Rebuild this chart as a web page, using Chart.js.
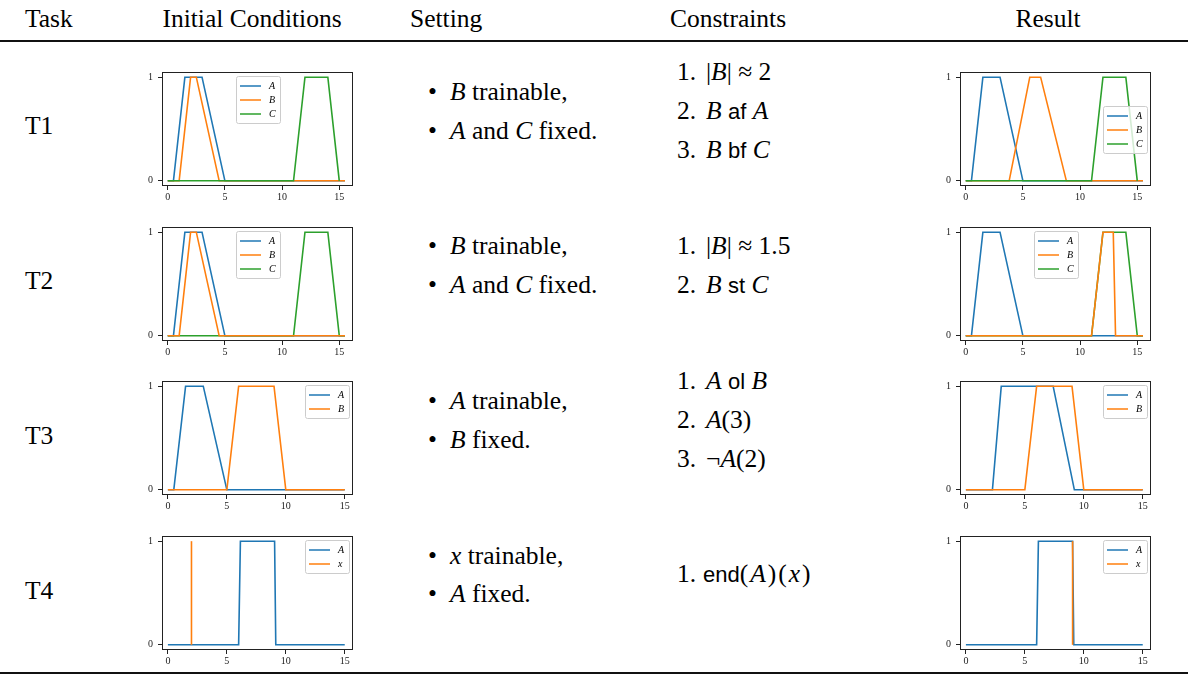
<!DOCTYPE html>
<html>
<head>
<meta charset="utf-8">
<script src="https://cdn.jsdelivr.net/npm/chart.js@4.4.0/dist/chart.umd.min.js"></script>
<style>
  body { margin: 0; width: 1188px; height: 677px; background: #fff; position: relative; overflow: hidden;
         font-family: "Liberation Serif", "Times New Roman", serif; color: #000; }
  .t { position: absolute; font-size: 25.5px; line-height: 1; white-space: nowrap; transform: translateY(-50%); }
  .c { transform: translate(-50%, -50%); }
  .sf { font-family: "Liberation Sans", Arial, sans-serif; font-size: 22px; }
  .wide { letter-spacing: 2px; }
  .rule { position: absolute; left: 0; width: 1188px; height: 2px; background: #111; }
  canvas { position: absolute; }
  i { font-style: italic; }
</style>
</head>
<body>

<div class="t" style="left:25px;top:19px">Task</div>
<div class="t c" style="left:252px;top:19px">Initial Conditions</div>
<div class="t" style="left:410px;top:19px">Setting</div>
<div class="t c" style="left:728px;top:19px">Constraints</div>
<div class="t c" style="left:1048px;top:19px">Result</div>
<div class="rule" style="top:40px"></div>

<!-- T1 -->
<div class="t" style="left:25px;top:126px">T1</div>
<div class="t" style="left:428px;top:92px">•</div>
<div class="t" style="left:450px;top:92px"><i>B</i> trainable,</div>
<div class="t" style="left:428px;top:131px">•</div>
<div class="t" style="left:450px;top:131px"><i>A</i> and <i>C</i> fixed.</div>
<div class="t" style="left:677px;top:72px">1.</div>
<div class="t" style="left:706px;top:72px">|<i>B</i>| ≈ 2</div>
<div class="t" style="left:677px;top:111px">2.</div>
<div class="t" style="left:706px;top:111px"><i>B</i> <span class="sf">af</span> <i>A</i></div>
<div class="t" style="left:677px;top:150px">3.</div>
<div class="t" style="left:706px;top:150px"><i>B</i> <span class="sf">bf</span> <i>C</i></div>

<!-- T2 -->
<div class="t" style="left:25px;top:281px">T2</div>
<div class="t" style="left:428px;top:246px">•</div>
<div class="t" style="left:450px;top:246px"><i>B</i> trainable,</div>
<div class="t" style="left:428px;top:285px">•</div>
<div class="t" style="left:450px;top:285px"><i>A</i> and <i>C</i> fixed.</div>
<div class="t" style="left:677px;top:246px">1.</div>
<div class="t" style="left:706px;top:246px">|<i>B</i>| ≈ 1.5</div>
<div class="t" style="left:677px;top:285px">2.</div>
<div class="t" style="left:706px;top:285px"><i>B</i> <span class="sf">st</span> <i>C</i></div>

<!-- T3 -->
<div class="t" style="left:25px;top:436px">T3</div>
<div class="t" style="left:428px;top:401px">•</div>
<div class="t" style="left:450px;top:401px"><i>A</i> trainable,</div>
<div class="t" style="left:428px;top:440px">•</div>
<div class="t" style="left:450px;top:440px"><i>B</i> fixed.</div>
<div class="t" style="left:677px;top:381px">1.</div>
<div class="t" style="left:706px;top:381px"><i>A</i> <span class="sf">ol</span> <i>B</i></div>
<div class="t" style="left:677px;top:420px">2.</div>
<div class="t" style="left:706px;top:420px"><i>A</i>(3)</div>
<div class="t" style="left:677px;top:459px">3.</div>
<div class="t" style="left:706px;top:459px">¬<i>A</i>(2)</div>

<!-- T4 -->
<div class="t" style="left:25px;top:591px">T4</div>
<div class="t" style="left:428px;top:556px">•</div>
<div class="t" style="left:450px;top:556px"><i>x</i> trainable,</div>
<div class="t" style="left:428px;top:594px">•</div>
<div class="t" style="left:450px;top:594px"><i>A</i> fixed.</div>
<div class="t" style="left:677px;top:574px">1.</div>
<div class="t" style="left:703px;top:574px"><span class="sf">end</span><span class="wide">(<i>A</i>)(<i>x</i>)</span></div>

<div class="rule" style="top:672px"></div>

<canvas id="t1Init" width="219" height="143" style="left:140px;top:61px"></canvas>
<canvas id="t1Res" width="219" height="143" style="left:938px;top:61px"></canvas>
<canvas id="t2Init" width="219" height="143" style="left:140px;top:216px"></canvas>
<canvas id="t2Res" width="219" height="143" style="left:938px;top:216px"></canvas>
<canvas id="t3Init" width="219" height="143" style="left:140px;top:370px"></canvas>
<canvas id="t3Res" width="219" height="143" style="left:938px;top:370px"></canvas>
<canvas id="t4Init" width="219" height="143" style="left:140px;top:525px"></canvas>
<canvas id="t4Res" width="219" height="143" style="left:938px;top:525px"></canvas>

<script>
// Ticks
const xTicks = [0, 5, 10, 15];
const yTicks = [0, 1];

// T1 - initial conditions
const t1InitAx = [0, 0.5, 1.5, 3, 5, 15.5];
const t1InitAy = [0, 0, 1, 1, 0, 0];
const t1InitBx = [0, 1, 2, 2.5, 4.5, 15.5];
const t1InitBy = [0, 0, 1, 1, 0, 0];
const t1InitCx = [0, 11, 12, 14, 15];
const t1InitCy = [0, 0, 1, 1, 0];

// T1 - result
const t1ResAx = [0, 0.5, 1.5, 3, 5, 15.5];
const t1ResAy = [0, 0, 1, 1, 0, 0];
const t1ResBx = [0, 3.8, 5.6, 6.55, 8.8, 15.5];
const t1ResBy = [0, 0, 1, 1, 0, 0];
const t1ResCx = [0, 11, 12, 14, 15];
const t1ResCy = [0, 0, 1, 1, 0];

// T2 - initial conditions
const t2InitAx = [0, 0.5, 1.5, 3, 5, 15.5];
const t2InitAy = [0, 0, 1, 1, 0, 0];
const t2InitBx = [0, 1, 2, 2.5, 4.5, 15.5];
const t2InitBy = [0, 0, 1, 1, 0, 0];
const t2InitCx = [0, 11, 12, 14, 15, 15.5];
const t2InitCy = [0, 0, 1, 1, 0, 0];

// T2 - result
const t2ResAx = [0, 0.5, 1.5, 3, 5, 15.5];
const t2ResAy = [0, 0, 1, 1, 0, 0];
const t2ResBx = [0, 11, 12, 12.9, 13.1, 15.5];
const t2ResBy = [0, 0, 1, 1, 0, 0];
const t2ResCx = [0, 11, 12, 14, 15, 15.5];
const t2ResCy = [0, 0, 1, 1, 0, 0];

// T3 - initial conditions
const t3InitAx = [0, 0.5, 1.5, 3, 5, 15];
const t3InitAy = [0, 0, 1, 1, 0, 0];
const t3InitBx = [0, 5, 6, 9, 10, 15];
const t3InitBy = [0, 0, 1, 1, 0, 0];

// T3 - result
const t3ResAx = [0, 2.25, 3, 7.4, 9.2, 15];
const t3ResAy = [0, 0, 1, 1, 0, 0];
const t3ResBx = [0, 5, 6, 9, 10, 15];
const t3ResBy = [0, 0, 1, 1, 0, 0];

// T4 - initial conditions
const t4InitAx = [0, 6, 6.15, 9.05, 9.15, 15];
const t4InitAy = [0, 0, 1, 1, 0, 0];
const t4InitXx = [2, 2];
const t4InitXy = [0, 1];

// T4 - result
const t4ResAx = [0, 6, 6.15, 9.05, 9.15, 15];
const t4ResAy = [0, 0, 1, 1, 0, 0];
const t4ResXx = [9.05, 9.05];
const t4ResXy = [0, 1];

const blue = '#1f77b4', orange = '#ff7f0e', green = '#2ca02c';
const tickFont = { family: '"Liberation Serif", serif', size: 10 };

function pts(xs, ys) {
    return xs.map((x, i) => ({ x: x, y: ys[i] }));
}

// frame around the plot area (matplotlib spines)
const frame = {
    id: 'frame',
    afterDatasetsDraw(chart) {
        const { ctx, chartArea: a } = chart;
        ctx.save();
        ctx.strokeStyle = '#222';
        ctx.lineWidth = 1;
        ctx.strokeRect(Math.round(a.left) + 0.5, Math.round(a.top) + 0.5,
            Math.round(a.right - a.left) - 1, Math.round(a.bottom - a.top) - 1);
        ctx.restore();
    }
};

// legend box drawn inside the axes
const boxLegend = {
    id: 'boxLegend',
    afterDatasetsDraw(chart, args, opts) {
        const { ctx, chartArea: a } = chart;
        const sets = chart.data.datasets;
        const w = 44, h = 5 + 14 * sets.length, pad = 4;
        let x = a.right - pad - w;
        let y = a.top + pad;
        if (opts.loc === 'upper center') x = (a.left + a.right - w) / 2;
        if (opts.loc === 'center right') y = (a.top + a.bottom - h) / 2;
        x = Math.round(x); y = Math.round(y);
        ctx.save();
        ctx.fillStyle = 'rgba(255,255,255,0.8)';
        ctx.strokeStyle = '#cccccc';
        ctx.lineWidth = 1;
        ctx.beginPath();
        if (ctx.roundRect) ctx.roundRect(x + 0.5, y + 0.5, w, h, 2);
        else ctx.rect(x + 0.5, y + 0.5, w, h);
        ctx.fill();
        ctx.stroke();
        ctx.font = 'italic 10px "Liberation Serif"';
        ctx.textBaseline = 'middle';
        sets.forEach((d, i) => {
            const cy = y + 10 + 14 * i;
            ctx.strokeStyle = d.borderColor;
            ctx.lineWidth = 1.5;
            ctx.beginPath();
            ctx.moveTo(x + 4, cy);
            ctx.lineTo(x + 25, cy);
            ctx.stroke();
            ctx.fillStyle = '#000';
            ctx.fillText(d.label, x + 33, cy);
        });
        ctx.restore();
    }
};

function drawPanel(id, lines, loc, xMax) {
    const datasets = lines.map(l => ({
        label: l.label,
        data: pts(l.xs, l.ys),
        borderColor: l.color,
        borderWidth: 1.6,
        pointRadius: 0,
        tension: 0,
        fill: false,
        order: -l.z
    }));

    new Chart(document.getElementById(id), {
        type: 'line',
        data: { datasets: datasets },
        options: {
            responsive: false,
            animation: false,
            layout: { padding: { top: 6, right: 6, left: 0, bottom: 0 } },
            plugins: {
                legend: { display: false },
                tooltip: { enabled: false },
                boxLegend: { loc: loc }
            },
            scales: {
                x: {
                    type: 'linear',
                    min: -0.5,
                    max: xMax,
                    afterBuildTicks: s => { s.ticks = xTicks.map(v => ({ value: v })); },
                    afterFit: s => { s.height = 18; },
                    border: { display: false },
                    grid: { drawOnChartArea: false, tickLength: 4, color: '#222' },
                    ticks: { font: tickFont, color: '#222', padding: 1, maxRotation: 0 }
                },
                y: {
                    min: -0.05,
                    max: 1.05,
                    afterBuildTicks: s => { s.ticks = yTicks.map(v => ({ value: v })); },
                    afterFit: s => { s.width = 22; },
                    border: { display: false },
                    grid: { drawOnChartArea: false, tickLength: 4, color: '#222' },
                    ticks: { font: tickFont, color: '#222', padding: 5 }
                }
            }
        },
        plugins: [frame, boxLegend]
    });
}

drawPanel('t1Init', [
    { label: 'A', xs: t1InitAx, ys: t1InitAy, color: blue, z: 1 },
    { label: 'B', xs: t1InitBx, ys: t1InitBy, color: orange, z: 2 },
    { label: 'C', xs: t1InitCx, ys: t1InitCy, color: green, z: 3 }
], 'upper center', 16.2);

drawPanel('t1Res', [
    { label: 'A', xs: t1ResAx, ys: t1ResAy, color: blue, z: 1 },
    { label: 'B', xs: t1ResBx, ys: t1ResBy, color: orange, z: 2 },
    { label: 'C', xs: t1ResCx, ys: t1ResCy, color: green, z: 3 }
], 'center right', 16.2);

drawPanel('t2Init', [
    { label: 'A', xs: t2InitAx, ys: t2InitAy, color: blue, z: 1 },
    { label: 'B', xs: t2InitBx, ys: t2InitBy, color: orange, z: 3 },
    { label: 'C', xs: t2InitCx, ys: t2InitCy, color: green, z: 2 }
], 'upper center', 16.2);

drawPanel('t2Res', [
    { label: 'A', xs: t2ResAx, ys: t2ResAy, color: blue, z: 1 },
    { label: 'B', xs: t2ResBx, ys: t2ResBy, color: orange, z: 3 },
    { label: 'C', xs: t2ResCx, ys: t2ResCy, color: green, z: 2 }
], 'upper center', 16.2);

drawPanel('t3Init', [
    { label: 'A', xs: t3InitAx, ys: t3InitAy, color: blue, z: 1 },
    { label: 'B', xs: t3InitBx, ys: t3InitBy, color: orange, z: 2 }
], 'upper right', 15.7);

drawPanel('t3Res', [
    { label: 'A', xs: t3ResAx, ys: t3ResAy, color: blue, z: 1 },
    { label: 'B', xs: t3ResBx, ys: t3ResBy, color: orange, z: 2 }
], 'upper right', 15.7);

drawPanel('t4Init', [
    { label: 'A', xs: t4InitAx, ys: t4InitAy, color: blue, z: 1 },
    { label: 'x', xs: t4InitXx, ys: t4InitXy, color: orange, z: 2 }
], 'upper right', 15.7);

drawPanel('t4Res', [
    { label: 'A', xs: t4ResAx, ys: t4ResAy, color: blue, z: 1 },
    { label: 'x', xs: t4ResXx, ys: t4ResXy, color: orange, z: 2 }
], 'upper right', 15.7);
</script>
</body>
</html>
